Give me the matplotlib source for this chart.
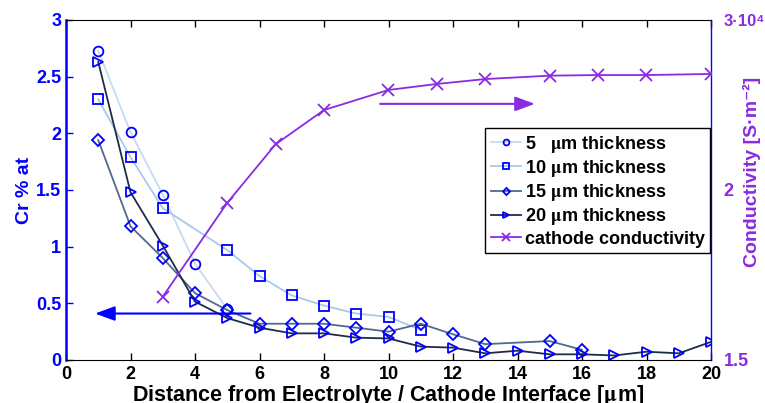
import matplotlib
matplotlib.use('Agg')
import matplotlib.pyplot as plt
import numpy as np

plt.rcParams['font.family'] = ['Liberation Sans', 'DejaVu Sans']
plt.rcParams['font.weight'] = 'bold'
plt.rcParams['mathtext.fontset'] = 'stix'

BLUE = '#0000ff'
PURPLE = '#8a2be2'

# Cr content [% at] vs distance [um]
x5 = [1, 2, 3, 4, 5]
cr5 = [2.73, 2.01, 1.46, 0.85, 0.45]
x10 = [1, 2, 3, 5, 6, 7, 8, 9, 10, 11]
cr10 = [2.30, 1.79, 1.34, 0.97, 0.74, 0.57, 0.48, 0.41, 0.38, 0.265]
x15 = [1, 2, 3, 4, 5, 6, 7, 8, 9, 10, 11, 12, 13, 15, 16]
cr15 = [1.94, 1.18, 0.90, 0.59, 0.44, 0.32, 0.32, 0.32, 0.285, 0.25, 0.32, 0.227, 0.14, 0.167, 0.09]
x20 = list(range(1, 21))
cr20 = [2.63, 1.48, 1.01, 0.515, 0.37, 0.285, 0.235, 0.235, 0.197, 0.19,
        0.118, 0.109, 0.059, 0.082, 0.05, 0.05, 0.04, 0.073, 0.059, 0.16]

# cathode conductivity [1e4 S/m2]
xc = [3, 5, 6.5, 8, 10, 11.5, 13, 15, 16.5, 18, 20]
cond = [1.654, 1.951, 2.197, 2.372, 2.488, 2.525, 2.556, 2.578, 2.582, 2.582, 2.589]

fig = plt.figure(figsize=(7.65, 4.03), dpi=100)
ax = fig.add_axes([66 / 765, 43 / 403, 645 / 765, 340 / 403])

mk = dict(markerfacecolor='none', markeredgecolor=BLUE, markeredgewidth=1.3, markersize=7, lw=1.3)
h5, = ax.plot(x5, cr5, 'o-', color='#c6dbef', label=r'5   $\mathrm{\mu}$m thickness', **mk)
h10, = ax.plot(x10, cr10, 's-', color='#a9c9ea', label=r'10 $\mathrm{\mu}$m thickness', **mk)
h15, = ax.plot(x15, cr15, 'D-', color='#4f6a8e', label=r'15 $\mathrm{\mu}$m thickness',
               **{**mk, 'markersize': 6})
h20, = ax.plot(x20, cr20, '>-', color='#1f2c47', label=r'20 $\mathrm{\mu}$m thickness', **mk)

ax.set_xlim(0, 20)
ax.set_ylim(0, 3)
ax.set_xticks(np.arange(0, 21, 2))
ax.set_yticks(np.arange(0, 3.01, 0.5))
ax.set_yticklabels(['0', '0.5', '1', '1.5', '2', '2.5', '3'])
ax.tick_params(direction='in', length=5, top=True, right=True, labelsize=13, width=1)
ax.tick_params(axis='y', colors=BLUE)
ax.tick_params(axis='x', pad=4)
ax.spines['left'].set_color(BLUE)
ax.spines['right'].set_color(BLUE)
ax.spines['left'].set_linewidth(1.8)
ax.spines['right'].set_linewidth(1.0)
ax.set_ylabel('Cr % at', color=BLUE, fontsize=14, fontweight='bold', labelpad=2)
ax.set_xlabel(r'Distance from Electrolyte / Cathode Interface [$\mathrm{\mu}$m]',
              fontsize=15.5, fontweight='bold', labelpad=0)

ax.annotate('', xy=(0.9, 0.41), xytext=(5.72, 0.41),
            arrowprops=dict(arrowstyle='-|>,head_length=0.6,head_width=0.22', color=BLUE,
                            lw=1.5, mutation_scale=20, shrinkA=0, shrinkB=0))
ax.annotate('', xy=(14.54, 2.26), xytext=(9.74, 2.26),
            arrowprops=dict(arrowstyle='-|>,head_length=0.6,head_width=0.22', color=PURPLE,
                            lw=1.5, mutation_scale=20, shrinkA=0, shrinkB=0))

ax2 = ax.twinx()
ax2.set_yscale('function', functions=(lambda v: -1.0 / v, lambda v: -1.0 / v))
hc, = ax2.plot(xc, cond, 'x-', color=PURPLE, lw=1.3, markersize=9, markeredgewidth=1.3,
               label='cathode conductivity')
ax2.set_ylim(1.5, 3)
ax2.set_yticks([1.5, 2, 3])
ax2.set_yticklabels(['1.5', '2', '3·10⁴'])
ax2.yaxis.set_minor_locator(matplotlib.ticker.NullLocator())
ax2.tick_params(axis='y', length=0, pad=9, labelsize=13, colors=PURPLE)
for s in ax2.spines.values():
    s.set_visible(False)
for t in ax2.get_yticklabels():
    if t.get_text().startswith('3'):
        t.set_fontsize(12)
fig.text(752 / 765, 231 / 403, 'Conductivity [S·m⁻²]', color=PURPLE, fontsize=14,
         fontweight='bold', rotation=90, ha='center', va='center')

leg = ax2.legend(handles=[h5, h10, h15, h20, hc], loc='upper right',
                 bbox_to_anchor=(0.999, 0.682), borderaxespad=0,
                 fancybox=False, edgecolor='black', framealpha=1, handlelength=1.7,
                 handletextpad=0.2, labelspacing=0.18, markerscale=0.6,
                 borderpad=0.3, prop={'weight': 'bold', 'size': 13})
leg.get_frame().set_linewidth(1.0)

plt.savefig('out.png', dpi=100)
